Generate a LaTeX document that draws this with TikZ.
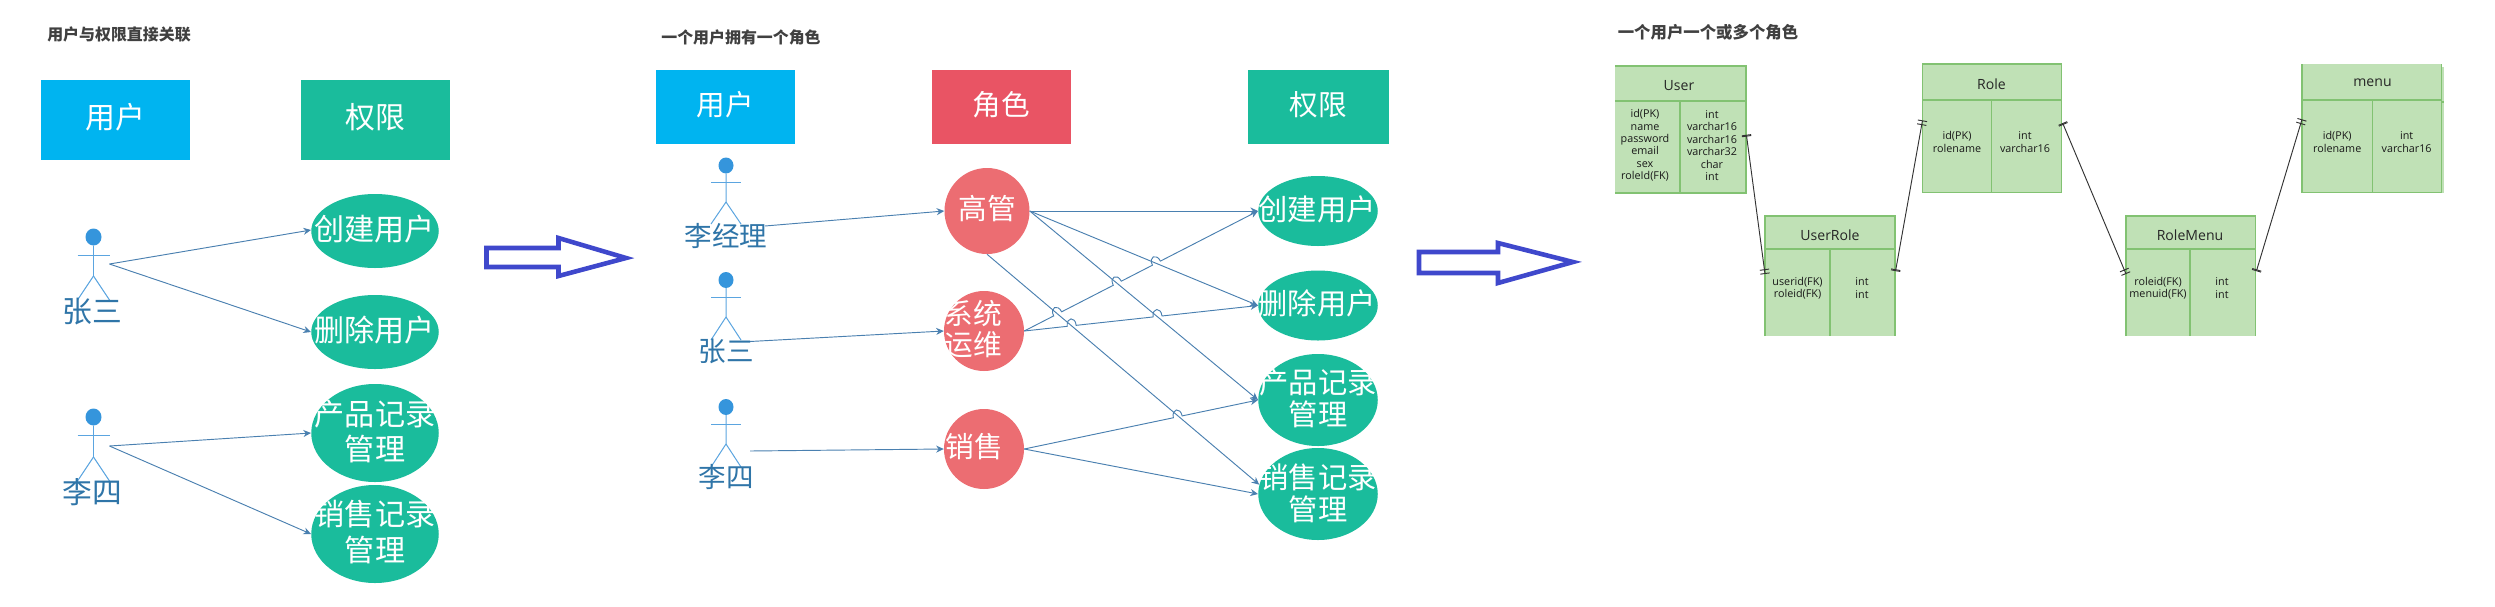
\documentclass[tikz,border=0pt]{standalone}
\usepackage{fontspec}
\setmainfont{Noto Sans CJK SC}
\newfontfamily\tblfont{Open Sans}
\usetikzlibrary{shapes.geometric,arrows.meta,calc,fit}
\definecolor{cyanbox}{HTML}{00B4F0}
\definecolor{greenbox}{HTML}{1ABC9C}
\definecolor{redbox}{HTML}{E95464}
\definecolor{redell}{HTML}{EC6D72}
\definecolor{conncol}{HTML}{4A80B0}
\definecolor{actline}{HTML}{5BA5E0}
\definecolor{acthead}{HTML}{3595DC}
\definecolor{acttxt}{HTML}{2F75A8}
\definecolor{titlecol}{HTML}{404040}
\definecolor{hollow}{HTML}{3F48CC}
\definecolor{tblfill}{HTML}{C0E1B6}
\definecolor{tblline}{HTML}{82C272}
\newcommand\fsz[2]{\fontsize{#1pt}{#2pt}\selectfont}
\newcommand\actorfig[9]{% name cx head arm hip leg halfw rx ry
  \node[ellipse,fill=acthead,inner sep=0,minimum width=#8,minimum height=#9] (#1) at (#2,#3) {};
  \draw[actl] (#1) -- (#2,#5) -- ($(#2,#5)+(-#7,#6-#5)$);
  \draw[actl] (#2,#5) -- ($(#2,#5)+(#7,#6-#5)$);
  \draw[actl] ($(#2,#4)+(-#7,0)$) -- ($(#2,#4)+(#7,0)$);
}
\newcommand\tbl[7]{% name x1 y1 x2 y2 yh xc
  \node[tbg,fit={(#2,#3)(#4,#5)}] (#1) {};
  \draw[tln] (#2,#6) -- (#4,#6);
  \draw[tln] (#7,#6) -- (#7,#5);
}
\newcommand\defjump[4]{% name from to t
  \coordinate (#1) at ($(#2)!#4!(#3)$);
  \coordinate (#1i) at ($(#1)!0.135cm!(#2)$);
  \coordinate (#1o) at ($(#1)!0.135cm!(#3)$);
  \coordinate (#1p) at ($(#1i)!0.28cm!90:(#1o)$);
  \coordinate (#1q) at ($(#1o)!0.28cm!-90:(#1i)$);
}
\tikzset{
  hbox/.style={rectangle,inner sep=0},
  ell/.style={ellipse,fill=greenbox,inner sep=0},
  rell/.style={ellipse,fill=redell,inner sep=0},
  wtxt/.style={text=white,align=center,inner sep=0},
  atxt/.style={text=acttxt,inner sep=0},
  ttl/.style={text=titlecol,font=\fsz{13.6}{16}\bfseries,inner sep=0},
  actl/.style={draw=actline,line width=0.85pt},
  conn/.style={draw=conncol,line width=0.8pt,-{Stealth[length=6.5pt,width=6pt]}},
  hol/.style={draw=hollow,line width=3.9pt,line join=miter},
  tbg/.style={rectangle,fill=tblfill,inner sep=0,outer sep=0},
  tln/.style={draw=tblline,line width=1.1pt},
  thead/.style={inner sep=0,text=black!85,font=\tblfont\fontsize{12pt}{14pt}\selectfont},
  tcell/.style={inner sep=0,text=black!90,align=center,font=\tblfont\fontsize{9.2pt}{10.66pt}\selectfont},
  rel/.style={draw=black!80,line width=0.8pt,{Bar[width=8pt,sep=2.5pt]Bar[width=8pt]}-{Bar[width=8pt,sep=2.5pt]Bar[width=8pt]}},
}
\begin{document}
\begin{tikzpicture}[x=0.03cm,y=-0.03cm]
\useasboundingbox (0,0) rectangle (2495,606);
\fill[white] (0,0) rectangle (2495,606);

% ---------- panel 1
\node[ttl] (t1) at (119,34) {用户与权限直接关联};
\node[hbox,fill=cyanbox,fit={(41,80)(190,160)},label={[wtxt,font=\fsz{25.5}{30},yshift=0.09cm]center:用户}] (u1) {};
\node[hbox,fill=greenbox,fit={(301,80)(450,160)},label={[wtxt,font=\fsz{25.5}{30},yshift=0.09cm]center:权限}] (p1) {};
\node[ell,minimum width=127.5*0.03cm,minimum height=74*0.03cm] (e1) at (375,231) {};
\node[ell,minimum width=127.5*0.03cm,minimum height=74*0.03cm] (e2) at (375,332) {};
\node[ell,minimum width=127.5*0.03cm,minimum height=98*0.03cm] (e3) at (375,433) {};
\node[ell,minimum width=127.5*0.03cm,minimum height=98*0.03cm] (e4) at (375,534) {};
\node[wtxt,font=\fsz{25.7}{30}] (e1t) at (374.5,229.5) {创建用户};
\node[wtxt,font=\fsz{25.7}{30}] (e2t) at (374.5,330) {删除用户};
\node[wtxt,font=\fsz{25.7}{30}] (e3t) at (375,431.5) {产品记录\\管理};
\node[wtxt,font=\fsz{25.7}{30}] (e4t) at (375,532) {销售记录\\管理};
\actorfig{a1}{93.5}{237}{255}{276}{300}{16}{0.48cm}{0.51cm}
\actorfig{a2}{93.5}{417}{435}{457}{481}{16}{0.48cm}{0.51cm}
\node[atxt,font=\fsz{25.4}{30}] (a1t) at (92.5,312) {张三};
\node[atxt,font=\fsz{25.4}{30}] (a2t) at (92.5,492) {李四};
\coordinate (a1s) at (109.5,264);
\coordinate (a2s) at (109.5,446);
\draw[conn] (a1s) -- ([yshift=0.03cm]e1.west);
\draw[conn] (a1s) -- (e2.west);
\draw[conn] (a2s) -- (e3.west);
\draw[conn] (a2s) -- (e4.west);
\draw[hol] (486.5,248) -- (558.5,248) -- (558.5,238) -- (626,258) -- (558.5,276) -- (558.5,267) -- (486.5,267) -- cycle;

% ---------- panel 2
\node[ttl] (t2) at (741,37) {一个用户拥有一个角色};
\node[hbox,fill=cyanbox,fit={(656,70)(795,144)},label={[wtxt,font=\fsz{24.4}{30},yshift=0.06cm]center:用户}] (u2) {};
\node[hbox,fill=redbox,fit={(931.5,70)(1071,144)},label={[wtxt,font=\fsz{24.4}{30},yshift=0.06cm]center:角色}] (r2) {};
\node[hbox,fill=greenbox,fit={(1248,70)(1388.5,144)},label={[wtxt,font=\fsz{24.4}{30},yshift=0.06cm]center:权限}] (p2) {};
\node[rell,minimum width=85*0.03cm,minimum height=86*0.03cm] (gg) at (987,211) {};
\node[rell,minimum width=80*0.03cm,minimum height=80*0.03cm] (xt) at (984,331) {};
\node[rell,minimum width=80*0.03cm,minimum height=80*0.03cm] (xs) at (984,449) {};
\node[wtxt,font=\fsz{24.5}{30}] (ggt) at (987,208.5) {高管};
\node[wtxt,font=\fsz{24.5}{26.5}] (xtt) at (973,329.5) {系统\\运维};
\node[wtxt,font=\fsz{24.5}{30}] (xst) at (974.5,447) {销售};
\node[ell,minimum width=119.5*0.03cm,minimum height=70*0.03cm] (q1) at (1318,211) {};
\node[ell,minimum width=119.5*0.03cm,minimum height=70*0.03cm] (q2) at (1318,305.5) {};
\node[ell,minimum width=119.5*0.03cm,minimum height=92*0.03cm] (q3) at (1318,400) {};
\node[ell,minimum width=119.5*0.03cm,minimum height=92*0.03cm] (q4) at (1318,494) {};
\node[wtxt,font=\fsz{25}{27.3}] (q1t) at (1317,209) {创建用户};
\node[wtxt,font=\fsz{25}{27.3}] (q2t) at (1317,303.5) {删除用户};
\node[wtxt,font=\fsz{25}{27.3}] (q3t) at (1318,398) {产品记录\\管理};
\node[wtxt,font=\fsz{25}{27.3}] (q4t) at (1318,493) {销售记录\\管理};
\actorfig{b1}{726}{165.5}{182}{202}{224}{15}{0.45cm}{0.48cm}
\actorfig{b2}{726}{280}{297}{317}{340}{15}{0.45cm}{0.48cm}
\actorfig{b3}{726}{407}{424}{444}{467}{15}{0.45cm}{0.48cm}
\node[atxt,font=\fsz{23.5}{28}] (b1t) at (726,236) {李经理};
\node[atxt,font=\fsz{23.5}{28}] (b2t) at (726,351) {张三};
\node[atxt,font=\fsz{23.5}{28}] (b3t) at (726,477) {李四};
\coordinate (b1s) at (765,226);
\coordinate (b2s) at (750,341.5);
\coordinate (b3s) at (750,451);
\draw[conn] (b1s) -- (gg.west);
\draw[conn] (b2s) -- (xt.west);
\draw[conn] (b3s) -- (xs.west);
\draw[conn] (gg.east) -- (q1.west);
\draw[conn] (gg.east) -- (q2.west);
\draw[conn] (gg.east) -- (q3.west);
\draw[conn] (gg.south) -- (q4.171);
\defjump{ja}{xt.east}{q1.west}{0.143}
\defjump{jb}{xt.east}{q1.west}{0.398}
\defjump{jc}{xt.east}{q1.west}{0.5655}
\defjump{jd}{xt.east}{q2.west}{0.203}
\defjump{je}{xt.east}{q2.west}{0.570}
\defjump{jf}{xs.east}{q3.west}{0.6566}
\draw[conn] (xt.east) -- (jai) .. controls (jap) and (jaq) .. (jao) -- (jbi) .. controls (jbp) and (jbq) .. (jbo) -- (jci) .. controls (jcp) and (jcq) .. (jco) -- (q1.west);
\draw[conn] (xt.east) -- (jdi) .. controls (jdp) and (jdq) .. (jdo) -- (jei) .. controls (jep) and (jeq) .. (jeo) -- (q2.west);
\draw[conn] (xs.east) -- (jfi) .. controls (jfp) and (jfq) .. (jfo) -- (q3.west);
\draw[conn] (xs.east) -- (q4.west);
\draw[hol] (1419,252) -- (1498,252) -- (1498,243) -- (1573,262) -- (1498,283) -- (1498,273) -- (1419,273) -- cycle;

% ---------- panel 3
\node[fill=none,text=titlecol,inner sep=0,font=\fsz{14}{16}\bfseries] (t3) at (1708,32) {一个用户一个或多个角色};
\tbl{tu}{1615}{66}{1746}{193}{101}{1680}
\tbl{tur}{1765}{216}{1895}{336}{249}{1830}
\tbl{tr}{1922.5}{64}{2061.5}{192.7}{100}{1991.5}
\tbl{trm}{2126}{216}{2255.5}{336}{249}{2190}
\fill[tblfill] (2441.6,67) rectangle (2444,193);
\draw[tln] (2441.6,102) -- (2444,102);
\tbl{tm}{2302}{64}{2441.6}{192.7}{100}{2372.5}
\draw[tln] (tu.north west) -- (tu.north east) -- (tu.south east) -- (tu.south west);
\draw[tln] (tur.south west) -- (tur.north west) -- (tur.north east) -- (tur.south east);
\draw[tln] (tr.north west) rectangle (tr.south east);
\draw[tln] (trm.south west) -- (trm.north west) -- (trm.north east) -- (trm.south east);
\draw[tln] (tm.north west) -- (tm.south west) -- (tm.south east) -- (tm.north east);
\node[thead] (tuh) at (1679,86) {User};
\node[tcell] (tua) at (1645,145.5) {id(PK)\\name\\password\\email\\sex\\roleId(FK)};
\node[tcell] (tub) at (1712,145.5) {int\\varchar16\\varchar16\\varchar32\\char\\int};
\node[thead] (turh) at (1830,235) {UserRole};
\node[tcell] (tura) at (1797.5,288) {userid(FK)\\roleid(FK)};
\node[tcell] (turb) at (1862,288) {int\\int};
\node[thead] (trh) at (1991.5,84) {Role};
\node[tcell] (tra) at (1957,142) {id(PK)\\rolename};
\node[tcell] (trb) at (2025,142) {int\\varchar16};
\node[thead] (trmh) at (2190,235) {RoleMenu};
\node[tcell] (trma) at (2158,288) {roleid(FK)\\menuid(FK)};
\node[tcell] (trmb) at (2222,288) {int\\int};
\node[thead] (tmh) at (2372.5,83) {menu};
\node[tcell] (tma) at (2337.2,142) {id(PK)\\rolename};
\node[tcell] (tmb) at (2406.6,142) {int\\varchar16};
\draw[rel] ([yshift=-0.07*1cm]tu.east) -- ([yshift=0.06*1cm]tur.west);
\draw[rel] ([yshift=0.06*1cm]tur.east) -- ([yshift=0.24*1cm]tr.west);
\draw[rel] ([yshift=0.24*1cm]tr.east) -- ([yshift=0.06*1cm]trm.west);
\draw[rel] ([yshift=0.06*1cm]trm.east) -- ([yshift=0.27*1cm]tm.west);
\end{tikzpicture}
\end{document}
